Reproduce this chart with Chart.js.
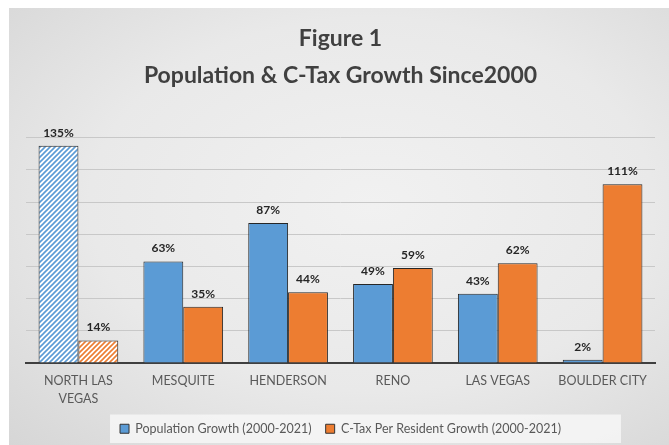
<!DOCTYPE html>
<html>
<head>
<meta charset="utf-8">
<script src="https://cdn.jsdelivr.net/npm/chart.js@4/dist/chart.umd.min.js"></script>
<style>
  html, body { margin: 0; padding: 0; background: #ffffff; }
  #panel {
    position: absolute; left: 9px; top: 8px; width: 660px; height: 437px;
    background: radial-gradient(ellipse at 55% 45%, #f1f1f1 0%, #e9e9e9 55%, #d6d6d6 100%);
  }
  #chart { display: block; }
</style>
</head>
<body>
<div id="panel"><canvas id="chart" width="660" height="437"></canvas></div>
<script>
const cities = [['NORTH LAS', 'VEGAS'], 'MESQUITE', 'HENDERSON', 'RENO', 'LAS VEGAS', 'BOULDER CITY'];
const populationGrowth = [135, 63, 87, 49, 43, 2];
const ctaxGrowth = [14, 35, 44, 59, 62, 111];
const seriesNames = ['Population Growth (2000-2021)', 'C-Tax Per Resident Growth (2000-2021)'];

const BLUE = '#5b9bd5';
const ORANGE = '#ed7d31';

// diagonal hatch used for the first city
function hatch(color) {
    const c = document.createElement('canvas');
    c.width = 5; c.height = 5;
    const g = c.getContext('2d');
    g.fillStyle = '#ffffff';
    g.fillRect(0, 0, 5, 5);
    g.strokeStyle = color;
    g.lineWidth = 1.6;
    g.beginPath();
    g.moveTo(-1, 6); g.lineTo(6, -1);
    g.moveTo(-1, 1); g.lineTo(1, -1);
    g.moveTo(4, 6); g.lineTo(6, 4);
    g.stroke();
    return g.createPattern(c, 'repeat');
}

function fills(base) {
    return cities.map((c, i) => i === 0 ? hatch(base) : base);
}

const valueLabels = {
    id: 'valueLabels',
    afterDatasetsDraw(chart) {
        const ctx = chart.ctx;
        ctx.save();
        ctx.font = 'bold 12px Lato';
        ctx.fillStyle = '#262626';
        ctx.textAlign = 'center';
        ctx.textBaseline = 'bottom';
        chart.data.datasets.forEach((ds, d) => {
            chart.getDatasetMeta(d).data.forEach((bar, i) => {
                ctx.fillText(ds.data[i] + '%', bar.x, bar.y - 7);
            });
        });
        ctx.restore();
    }
};

// light strip behind the legend entries
const legendBox = {
    id: 'legendBox',
    beforeDraw(chart) {
        const boxes = chart.legend.legendHitBoxes;
        if (!boxes || !boxes.length) return;
        const first = boxes[0];
        const last = boxes[boxes.length - 1];
        const ctx = chart.ctx;
        ctx.save();
        ctx.fillStyle = 'rgba(247,247,247,0.8)';
        ctx.fillRect(first.left - 10, first.top - 8, last.left + last.width - first.left + 70, first.height + 16);
        ctx.restore();
    }
};

new Chart(document.getElementById('chart'), {
    type: 'bar',
    data: {
        labels: cities,
        datasets: [{
            label: seriesNames[0],
            data: populationGrowth,
            backgroundColor: fills(BLUE),
            borderColor: '#262626',
            borderWidth: 1,
            categoryPercentage: 0.76,
            barPercentage: 1
        }, {
            label: seriesNames[1],
            data: ctaxGrowth,
            backgroundColor: fills(ORANGE),
            borderColor: '#262626',
            borderWidth: 1,
            categoryPercentage: 0.76,
            barPercentage: 1
        }]
    },
    options: {
        responsive: false,
        animation: false,
        layout: { padding: { left: 17, right: 14, top: 0, bottom: 0 } },
        plugins: {
            title: {
                display: true,
                text: ['Figure 1', 'Population & C-Tax Growth Since2000'],
                color: '#404040',
                font: { family: 'Lato', size: 23, weight: 'bold', lineHeight: 1.6 },
                padding: { top: 12, bottom: 44 }
            },
            legend: {
                position: 'bottom',
                labels: {
                    color: '#595959',
                    font: { family: 'Lato', size: 12.5 },
                    boxWidth: 9,
                    boxHeight: 9,
                    padding: 14,
                    generateLabels(chart) {
                        return [BLUE, ORANGE].map((col, i) => ({
                            text: seriesNames[i],
                            fillStyle: col,
                            strokeStyle: '#333333',
                            lineWidth: 1,
                            fontColor: '#595959',
                            datasetIndex: i
                        }));
                    }
                }
            },
            tooltip: { enabled: false }
        },
        scales: {
            x: {
                grid: { display: false },
                border: { color: '#3f3f3f', width: 2 },
                ticks: { color: '#595959', font: { family: 'Lato', size: 12.5, lineHeight: 1.42 }, padding: 1, maxRotation: 0 }
            },
            y: {
                min: 0,
                max: 140,
                ticks: { display: false, stepSize: 20 },
                grid: { color: '#c8c8c8', drawTicks: false },
                border: { display: false }
            }
        }
    },
    plugins: [legendBox, valueLabels]
});
</script>
</body>
</html>
